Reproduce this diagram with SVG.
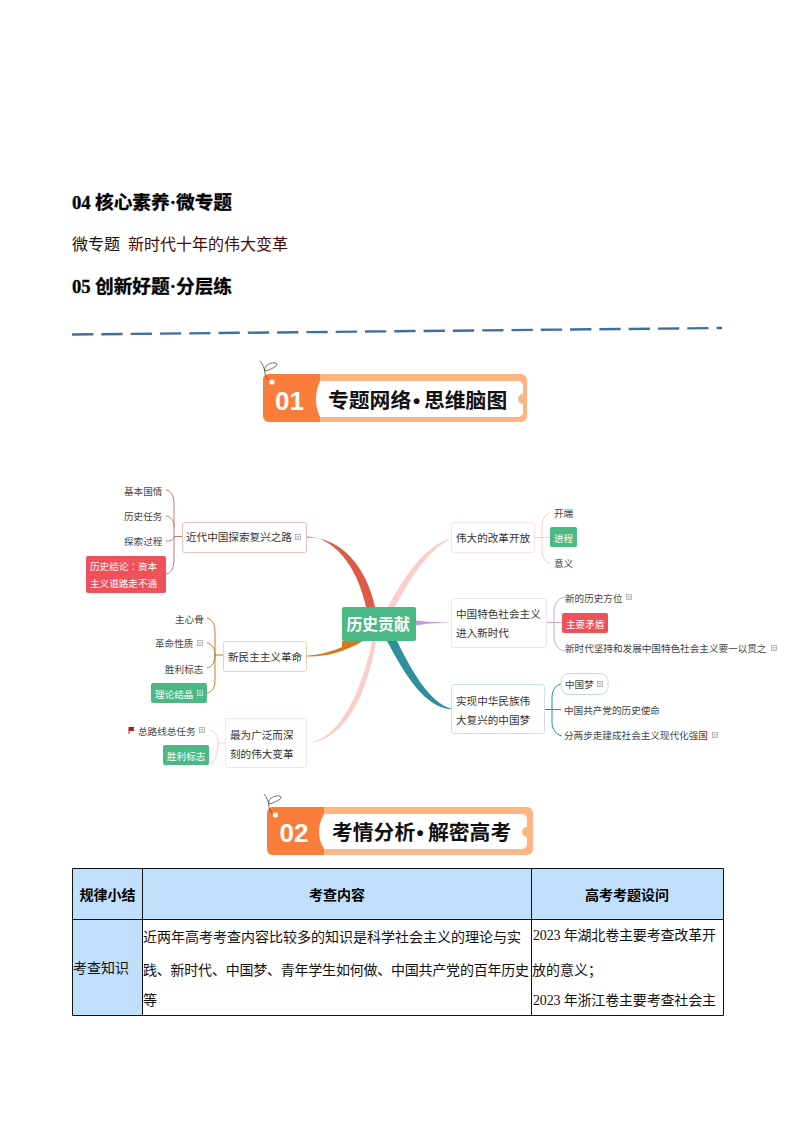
<svg xmlns="http://www.w3.org/2000/svg" xmlns:xlink="http://www.w3.org/1999/xlink" width="794" height="1123" viewBox="0 0 794 1123">
<style>
text{font-family:"Liberation Serif","Noto Sans CJK SC",serif}
.h{font-size:18.7px;font-weight:700;fill:#000;stroke:#000;stroke-width:.3}
.b{font-size:16px;fill:#111}
.dr{fill:#4a0808}
.th{font-size:14px;font-weight:700;fill:#000;text-anchor:middle}
.td{font-size:14px;fill:#111}
.m,.l,.w,.c,.bt{font-family:"Noto Sans CJK SC","Noto Sans",sans-serif}
.m{font-size:10.6px;fill:#333}
.l{font-size:9.6px;fill:#444}
.w{font-size:9.6px;fill:#fff}
.tc{font-family:"Noto Sans CJK TC",sans-serif}
.c{font-size:15.8px;font-weight:700;fill:#fff}
.bt{font-size:20.8px;font-weight:700;fill:#111}
.dot{font-family:"Liberation Sans",sans-serif}
.num{font-family:"Liberation Sans","Noto Sans",sans-serif;font-size:26px;font-weight:700;fill:#fff;text-anchor:middle}
.box{fill:#fff;stroke-width:1}
.g{fill:#4cb884}.r{fill:#f0505a}
.cn{fill:none;stroke-width:1}
.cell{fill:#bfdffb}
.grid{fill:none;stroke:#111;stroke-width:1}
.ic{fill:none;stroke:#aaa;stroke-width:.8}
.icw{fill:none;stroke:#cfe9dc;stroke-width:.8}
</style>
<defs>
<g id="note"><rect x="-2.500" y="-2.500" width="5" height="5" class="ic"/><path d="M-1.500,-.5H1.500M-1.500,1H1.500" class="ic"/></g>
<g id="notew"><rect x="-2.500" y="-2.500" width="5" height="5" class="icw"/><path d="M-1.500,-.5H1.500M-1.500,1H1.500" class="icw"/></g>
</defs>
<rect width="794" height="1123" fill="#fff"/>

<g id="outline">
<text x="72" y="209" class="h">04<tspan x="95">核心素养·微专题</tspan></text>
<text x="72" y="250" class="b">微专题</text>
<text x="128" y="250" class="b dr">新时代十年的伟大变革</text>
<text x="72" y="293" class="h">05<tspan x="95">创新好题·分层练</tspan></text>
<path d="M72,334.500L722,328" fill="none" stroke="#41709f" stroke-width="2.400" stroke-dasharray="21.3 8"/>
</g>

<g id="banner-01">
<rect x="263" y="374" width="264" height="48" rx="6" fill="#fdb583"/>
<path d="M269,374H320V422H269a6,6 0 0 1-6-6V380a6,6 0 0 1 6-6Z" fill="#fb7d3c"/>
<path d="M320,381H518a5,5 0 0 1 5,5V394a5,5 0 0 0 0,10V412a5,5 0 0 1-5,5H320Q312,399 320,381Z" fill="#fff"/>
<circle cx="272" cy="382" r="2.600" fill="#fff"/>
<path d="M260,361C263,364 264,369 265,371C270,370 278,366 277,364C275,361 266,364 265,368C264,372 265,376 268,380" fill="none" stroke="#333" stroke-width=".7"/>
<text x="289.500" y="409.500" class="num">01</text>
<text x="328" y="407.500" class="bt">专题网络<tspan x="413" class="dot">•</tspan><tspan x="424">思维脑图</tspan></text>
</g>

<g id="connectors">
<path d="M307,536.500C333,537 357,565 366,607H375C366,565 340,537 307,537.500Z" fill="#dd5a48"/>
<path d="M452,538C425,545 405,575 388,607H395C410,578 430,548 452,538Z" fill="#f9cfcb"/>
<path d="M416,620.500C430,622 440,622 451,622.500C440,623 430,623 416,625.500Z" fill="#c89be0"/>
<path d="M307,655.500C320,655 333,651 342,647V641H363C345,652 325,657 307,656.500Z" fill="#d4791f"/>
<path d="M452,709C430,703 412,672 397,641H387C405,675 425,708 452,709.500Z" fill="#2f8f9b"/>
<path d="M307,743C340,740 362,690 372,641H376C368,692 345,742 307,743Z" fill="#f9cfcb"/>

<g class="cn" stroke="#c07a6c">
<path d="M182,536.500H174"/>
<path d="M166,490C172,491 174,497 174,505V558C174,567 172,573 166,574"/>
<path d="M166,516C171,517 174,520 174,527"/>
<path d="M166,541C170,541 174,540 174,536.500"/>
</g>
<g class="cn" stroke="#c8782a">
<path d="M223,655H215"/>
<path d="M207,618C212,619 215,624 215,632V680C215,688 212,692 207,693"/>
<path d="M207,643C212,644 215,648 215,655"/>
<path d="M207,668C212,667 215,662 215,655"/>
</g>
<g class="cn" stroke="#f5cfcb">
<path d="M225,743H218"/>
<path d="M210,730C215,731 218,737 218,743C218,752 215,763 210,764"/>
</g>
<g class="cn" stroke="#f5cfcb">
<path d="M534,537.500H550"/>
<path d="M550,513C544,514 542,520 542,527V549C542,556 544,562 550,563"/>
</g>
<g class="cn" stroke="#c9a8dc">
<path d="M546,622.500H562"/>
<path d="M565,597C558,598 554,604 554,612V636C554,644 558,650 565,651"/>
</g>
<g class="cn" stroke="#2f8f9b">
<path d="M544,709.500H561"/>
<path d="M561,684C555,685 552,691 552,698V722C552,729 556,735 562,736"/>
</g>
</g>

<g id="root">
<rect x="342" y="607" width="74" height="34" rx="2" class="g"/>
<text x="346.500" y="630" class="c">历史贡献</text>
</g>

<g id="n-jindai">
<rect x="182.500" y="522.500" width="124" height="30" rx="2" class="box" stroke="#e3c4bc"/>
<text x="186" y="541" class="m">近代中国探索复兴之路</text>
<use xlink:href="#note" href="#note" x="298" y="537"/>
</g>
<g id="l-jibenguoqing"><text x="124" y="495" class="l">基本国情</text></g>
<g id="l-lishirenwu"><text x="124" y="520" class="l">历史任务</text></g>
<g id="l-tansuoguocheng"><text x="124" y="545" class="l">探索过程</text></g>
<g id="l-lishijielun">
<rect x="86" y="556" width="80" height="37" rx="2" class="r"/>
<text x="90" y="570" class="w">历史结论<tspan class="tc">：</tspan>资本</text>
<text x="90" y="587" class="w">主义道路走不通</text>
</g>

<g id="n-xinminzhu">
<rect x="223.500" y="641.500" width="83" height="30" rx="2" class="box" stroke="#f0d0b4"/>
<text x="228" y="661" class="m">新民主主义革命</text>
</g>
<g id="l-zhuxingu"><text x="175" y="623" class="l">主心骨</text></g>
<g id="l-gemingxingzhi"><text x="155" y="647" class="l">革命性质</text><use xlink:href="#note" href="#note" x="200" y="643"/></g>
<g id="l-shenglibiaozhi"><text x="165" y="673" class="l">胜利标志</text></g>
<g id="l-lilunjiejing">
<rect x="151" y="683" width="56" height="20" rx="2" class="g"/>
<text x="155" y="698" class="w">理论结晶</text>
<use xlink:href="#notew" href="#notew" x="200" y="693"/>
</g>

<g id="n-zuiwei">
<rect x="225.500" y="718.500" width="81" height="49" rx="2" class="box" stroke="#f5e6e4"/>
<text x="230" y="739" class="m">最为广泛而深</text>
<text x="230" y="758" class="m">刻的伟大变革</text>
</g>
<g id="l-zongluxian">
<path d="M129,727V734" stroke="#a52020" stroke-width="1" fill="none"/>
<path d="M129,727H134.500L133.500,729L134.500,731H129Z" fill="#a52020"/>
<text x="138" y="735" class="l">总路线总任务</text>
<use xlink:href="#note" href="#note" x="202" y="730"/>
</g>
<g id="l-shenglibiaozhi2">
<rect x="163" y="745" width="46" height="20" rx="2" class="g"/>
<text x="167" y="760" class="w">胜利标志</text>
</g>

<g id="n-gaige">
<rect x="451.500" y="522.500" width="83" height="30" rx="2" class="box" stroke="#f8e6e4"/>
<text x="456" y="542" class="m">伟大的改革开放</text>
</g>
<g id="l-kaiduan"><text x="554" y="517" class="l">开端</text></g>
<g id="l-jincheng">
<rect x="550" y="527" width="27" height="20" rx="2" class="g"/>
<text x="554" y="542" class="w">进程</text>
</g>
<g id="l-yiyi"><text x="554" y="567" class="l">意义</text></g>

<g id="n-xinshidai">
<rect x="451.500" y="598.500" width="95" height="49" rx="2" class="box" stroke="#ece2f2"/>
<text x="456" y="618" class="m">中国特色社会主义</text>
<text x="456" y="637" class="m">进入新时代</text>
</g>
<g id="l-xindelishi"><text x="565" y="602" class="l">新的历史方位</text><use xlink:href="#note" href="#note" x="629" y="597"/></g>
<g id="l-zhuyaomaodun">
<rect x="562" y="613" width="46" height="20" rx="2" class="r"/>
<text x="566" y="628" class="w">主要矛盾</text>
</g>
<g id="l-jianchi"><text x="565" y="652" class="l">新时代坚持和发展中国特色社会主义要一以贯之</text><use xlink:href="#note" href="#note" x="774" y="648"/></g>

<g id="n-zhongguomeng">
<rect x="451.500" y="684.500" width="93" height="49" rx="2" class="box" stroke="#c9e2e6"/>
<text x="456" y="705" class="m">实现中华民族伟</text>
<text x="456" y="724" class="m">大复兴的中国梦</text>
</g>
<g id="l-zgm">
<rect x="561" y="673.500" width="47" height="21" rx="8" class="box" stroke="#c4d8e2"/>
<text x="565" y="688" class="l">中国梦</text>
<use xlink:href="#note" href="#note" x="600" y="684"/>
</g>
<g id="l-shiming"><text x="564" y="714" class="l">中国共产党的历史使命</text></g>
<g id="l-liangbu"><text x="564" y="739" class="l">分两步走建成社会主义现代化强国</text><use xlink:href="#note" href="#note" x="715" y="735"/></g>

<g id="banner-02">
<rect x="267" y="807" width="266" height="48" rx="6" fill="#fdb583"/>
<path d="M273,807H324V855H273a6,6 0 0 1-6-6V813a6,6 0 0 1 6-6Z" fill="#fb7d3c"/>
<path d="M324,814H522a5,5 0 0 1 5,5V827a5,5 0 0 0 0,10V844a5,5 0 0 1-5,5H324Q314,832 324,814Z" fill="#fff"/>
<circle cx="275.500" cy="815" r="2.600" fill="#fff"/>
<path d="M264,794C267,797 268,802 269,804C274,803 282,799 281,797C279,794 270,797 269,801C268,805 269,809 272,813" fill="none" stroke="#333" stroke-width=".7"/>
<text x="294" y="842" class="num">02</text>
<text x="332" y="840" class="bt">考情分析<tspan x="416.500" class="dot">•</tspan><tspan x="428">解密高考</tspan></text>
</g>

<g id="table">
<rect x="72.500" y="868.500" width="70" height="51" class="cell"/>
<rect x="142.500" y="868.500" width="389" height="51" class="cell"/>
<rect x="531.500" y="868.500" width="192" height="51" class="cell"/>
<rect x="72.500" y="919.500" width="70" height="96" class="cell"/>
<path d="M72.500,868.500H723.500V1015.500H72.500ZM142.500,868.500V1015.500M531.500,868.500V1015.500M72.500,919.500H723.500" class="grid"/>
<text x="107.500" y="900" class="th">规律小结</text>
<text x="337" y="900" class="th">考查内容</text>
<text x="627" y="900" class="th">高考考题设问</text>
<text x="73" y="973" class="td">考查知识</text>
<text x="143" y="942" class="td">近两年高考考查内容比较多的知识是科学社会主义的理论与实</text>
<text x="143" y="975" class="td" textLength="386">践、新时代、中国梦、青年学生如何做、中国共产党的百年历史</text>
<text x="143" y="1005" class="td">等</text>
<text x="533" y="940" class="td" textLength="183">2023 年湖北卷主要考查改革开</text>
<text x="532" y="975" class="td">放的意义；</text>
<text x="533" y="1005" class="td" textLength="183">2023 年浙江卷主要考查社会主</text>
</g>
</svg>
